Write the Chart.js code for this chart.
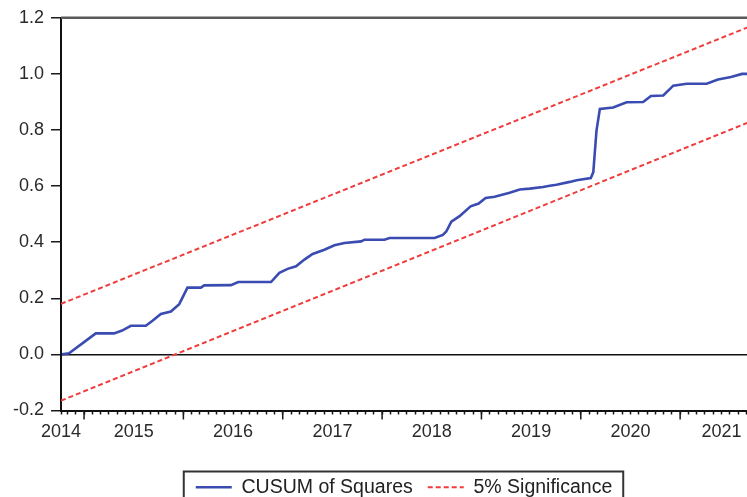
<!DOCTYPE html>
<html>
<head>
<meta charset="utf-8">
<script src="https://cdn.jsdelivr.net/npm/chart.js@4.4.0/dist/chart.umd.min.js"></script>
<style>
  body { margin: 0; background: #fff; }
  canvas { display: block; }
</style>
</head>
<body>
<canvas id="cusumChart" width="747" height="497"></canvas>
<script>
// eixo x em anos decimais (início e fim da amostra)
const xMin = 2014.768;
const xMax = 2021.673;

// CUSUM of Squares
const cusumX = [
  2014.778, 2014.849, 2015.118, 2015.302, 2015.383, 2015.471, 2015.622, 2015.689,
  2015.773, 2015.874, 2015.958, 2016.041, 2016.176, 2016.210, 2016.479, 2016.552,
  2016.882, 2016.966, 2017.049, 2017.134, 2017.218, 2017.301, 2017.419, 2017.520,
  2017.621, 2017.789, 2017.823, 2018.024, 2018.075, 2018.528, 2018.612, 2018.646,
  2018.697, 2018.780, 2018.891, 2018.972, 2019.042, 2019.133, 2019.284, 2019.385,
  2019.486, 2019.620, 2019.688, 2019.755, 2019.889, 2019.957, 2020.101, 2020.126,
  2020.158, 2020.192, 2020.326, 2020.461, 2020.628, 2020.706, 2020.830, 2020.931,
  2021.066, 2021.267, 2021.381, 2021.512, 2021.623, 2021.673
];
const cusumY = [
  0.000, 0.004, 0.075, 0.075, 0.085, 0.102, 0.102, 0.120,
  0.144, 0.153, 0.179, 0.238, 0.238, 0.246, 0.247, 0.258,
  0.258, 0.291, 0.305, 0.314, 0.338, 0.358, 0.373, 0.389,
  0.397, 0.403, 0.409, 0.409, 0.415, 0.415, 0.426, 0.438,
  0.473, 0.493, 0.528, 0.538, 0.558, 0.562, 0.576, 0.588,
  0.591, 0.597, 0.601, 0.605, 0.615, 0.621, 0.629, 0.650,
  0.798, 0.875, 0.880, 0.899, 0.900, 0.921, 0.923, 0.958,
  0.965, 0.965, 0.980, 0.989, 1.000, 1.000
];

// bandas de 5% de significância
const limiteX = [xMin, xMax];
const limiteSup = [0.18, 1.165];
const limiteInf = [-0.165, 0.825];

const yTicks = [-0.2, 0.0, 0.2, 0.4, 0.6, 0.8, 1.0, 1.2];
const anos = [2014, 2015, 2016, 2017, 2018, 2019, 2020, 2021];

const fonte = "'Liberation Sans', Arial, sans-serif";

// moldura de cima, marcas dos anos e caixa da legenda
const molduraPlugin = {
  id: "moldura",
  afterDraw(chart) {
    const { ctx, chartArea, scales } = chart;
    ctx.save();
    ctx.strokeStyle = "#5a5a5a";
    ctx.lineWidth = 2.5;
    ctx.beginPath();
    ctx.moveTo(chartArea.left, chartArea.top);
    ctx.lineTo(chartArea.right, chartArea.top);
    ctx.stroke();

    ctx.strokeStyle = "#1a1a1a";
    ctx.lineWidth = 1.5;
    anos.forEach((ano) => {
      const px = scales.x.getPixelForValue(ano);
      if (px < chartArea.left || px > chartArea.right) return;
      ctx.beginPath();
      ctx.moveTo(px, chartArea.bottom);
      ctx.lineTo(px, chartArea.bottom + 9);
      ctx.stroke();
    });

    const caixas = chart.legend.legendHitBoxes;
    if (caixas && caixas.length) {
      const primeira = caixas[0];
      const ultima = caixas[caixas.length - 1];
      const esq = primeira.left - 12;
      const dir = ultima.left + ultima.width + 11;
      ctx.strokeStyle = "#333";
      ctx.lineWidth = 2;
      ctx.strokeRect(esq, primeira.top - 6, dir - esq, 60);
    }
    ctx.restore();
  },
};

const ctx = document.getElementById("cusumChart").getContext("2d");
const cusumChart = new Chart(ctx, {
  type: "line",
  data: {
    datasets: [
      {
        label: "CUSUM of Squares",
        data: cusumX.map((x, i) => ({ x: x, y: cusumY[i] })),
        borderColor: "#3a4cb2",
        borderWidth: 2.6,
        pointRadius: 0,
        tension: 0,
      },
      {
        label: "5% Significance",
        data: limiteX.map((x, i) => ({ x: x, y: limiteSup[i] })),
        borderColor: "#f03c3c",
        borderWidth: 2,
        borderDash: [5, 3],
        pointRadius: 0,
      },
      {
        label: "limite inferior",
        data: limiteX.map((x, i) => ({ x: x, y: limiteInf[i] })),
        borderColor: "#f03c3c",
        borderWidth: 2,
        borderDash: [5, 3],
        pointRadius: 0,
      },
    ],
  },
  options: {
    responsive: false,
    animation: false,
    layout: { padding: { top: 15, right: 0, left: 0, bottom: -10 } },
    plugins: {
      tooltip: { enabled: false },
      legend: {
        position: "bottom",
        fullSize: false,
        labels: {
          filter: (item) => item.datasetIndex < 2,
          generateLabels(chart) {
            const itens = Chart.defaults.plugins.legend.labels.generateLabels(chart);
            itens.forEach((it) => {
              it.lineDash = chart.data.datasets[it.datasetIndex].borderDash || [];
            });
            return itens;
          },
          usePointStyle: true,
          pointStyle: "line",
          pointStyleWidth: 36,
          boxWidth: 36,
          padding: 15,
          color: "#222",
          font: { family: fonte, size: 19.5 },
        },
      },
    },
    scales: {
      x: {
        type: "linear",
        min: xMin,
        max: xMax,
        afterBuildTicks(scale) {
          const ticks = [{ value: xMin }];
          for (let k = Math.ceil((xMin - 2014) * 12); 2014 + k / 12 <= xMax; k++) {
            ticks.push({ value: 2014 + k / 12 });
          }
          scale.ticks = ticks;
        },
        afterFit(scale) {
          scale.height = 52;
          scale.paddingRight = 0;
        },
        ticks: {
          autoSkip: false,
          maxRotation: 0,
          minRotation: 0,
          padding: 7,
          color: "#2a2a2a",
          font: { family: fonte, size: 18 },
          callback(value) {
            if (value === xMin) return String(anos[0]);
            const k = Math.round((value - 2014) * 12);
            const ano = 2014 + Math.floor(k / 12);
            // o último ano fica um mês antes para caber na tela
            const mes = ano === anos[anos.length - 1] ? 5 : 6;
            if (k % 12 === mes && anos.includes(ano)) return String(ano);
            return "";
          },
        },
        grid: {
          drawOnChartArea: false,
          drawTicks: true,
          tickLength: 4,
          tickColor: "#1a1a1a",
          tickWidth: 1.5,
        },
        border: { display: true, color: "#111", width: 2 },
      },
      y: {
        min: -0.2,
        max: 1.2,
        afterBuildTicks(scale) {
          scale.ticks = yTicks.map((v) => ({ value: v }));
        },
        afterFit(scale) {
          scale.width = 61;
        },
        ticks: {
          padding: 7,
          color: "#2a2a2a",
          font: { family: fonte, size: 18 },
          callback: (v) => v.toFixed(1),
        },
        grid: {
          drawTicks: true,
          tickLength: 10,
          tickColor: "#1a1a1a",
          tickWidth: 1.5,
          color: (c) => (c.tick && Math.abs(c.tick.value) < 1e-9 ? "#111" : "rgba(0,0,0,0)"),
          lineWidth: 1.5,
        },
        border: { display: true, color: "#111", width: 2 },
      },
    },
  },
  plugins: [molduraPlugin],
});
</script>
</body>
</html>
